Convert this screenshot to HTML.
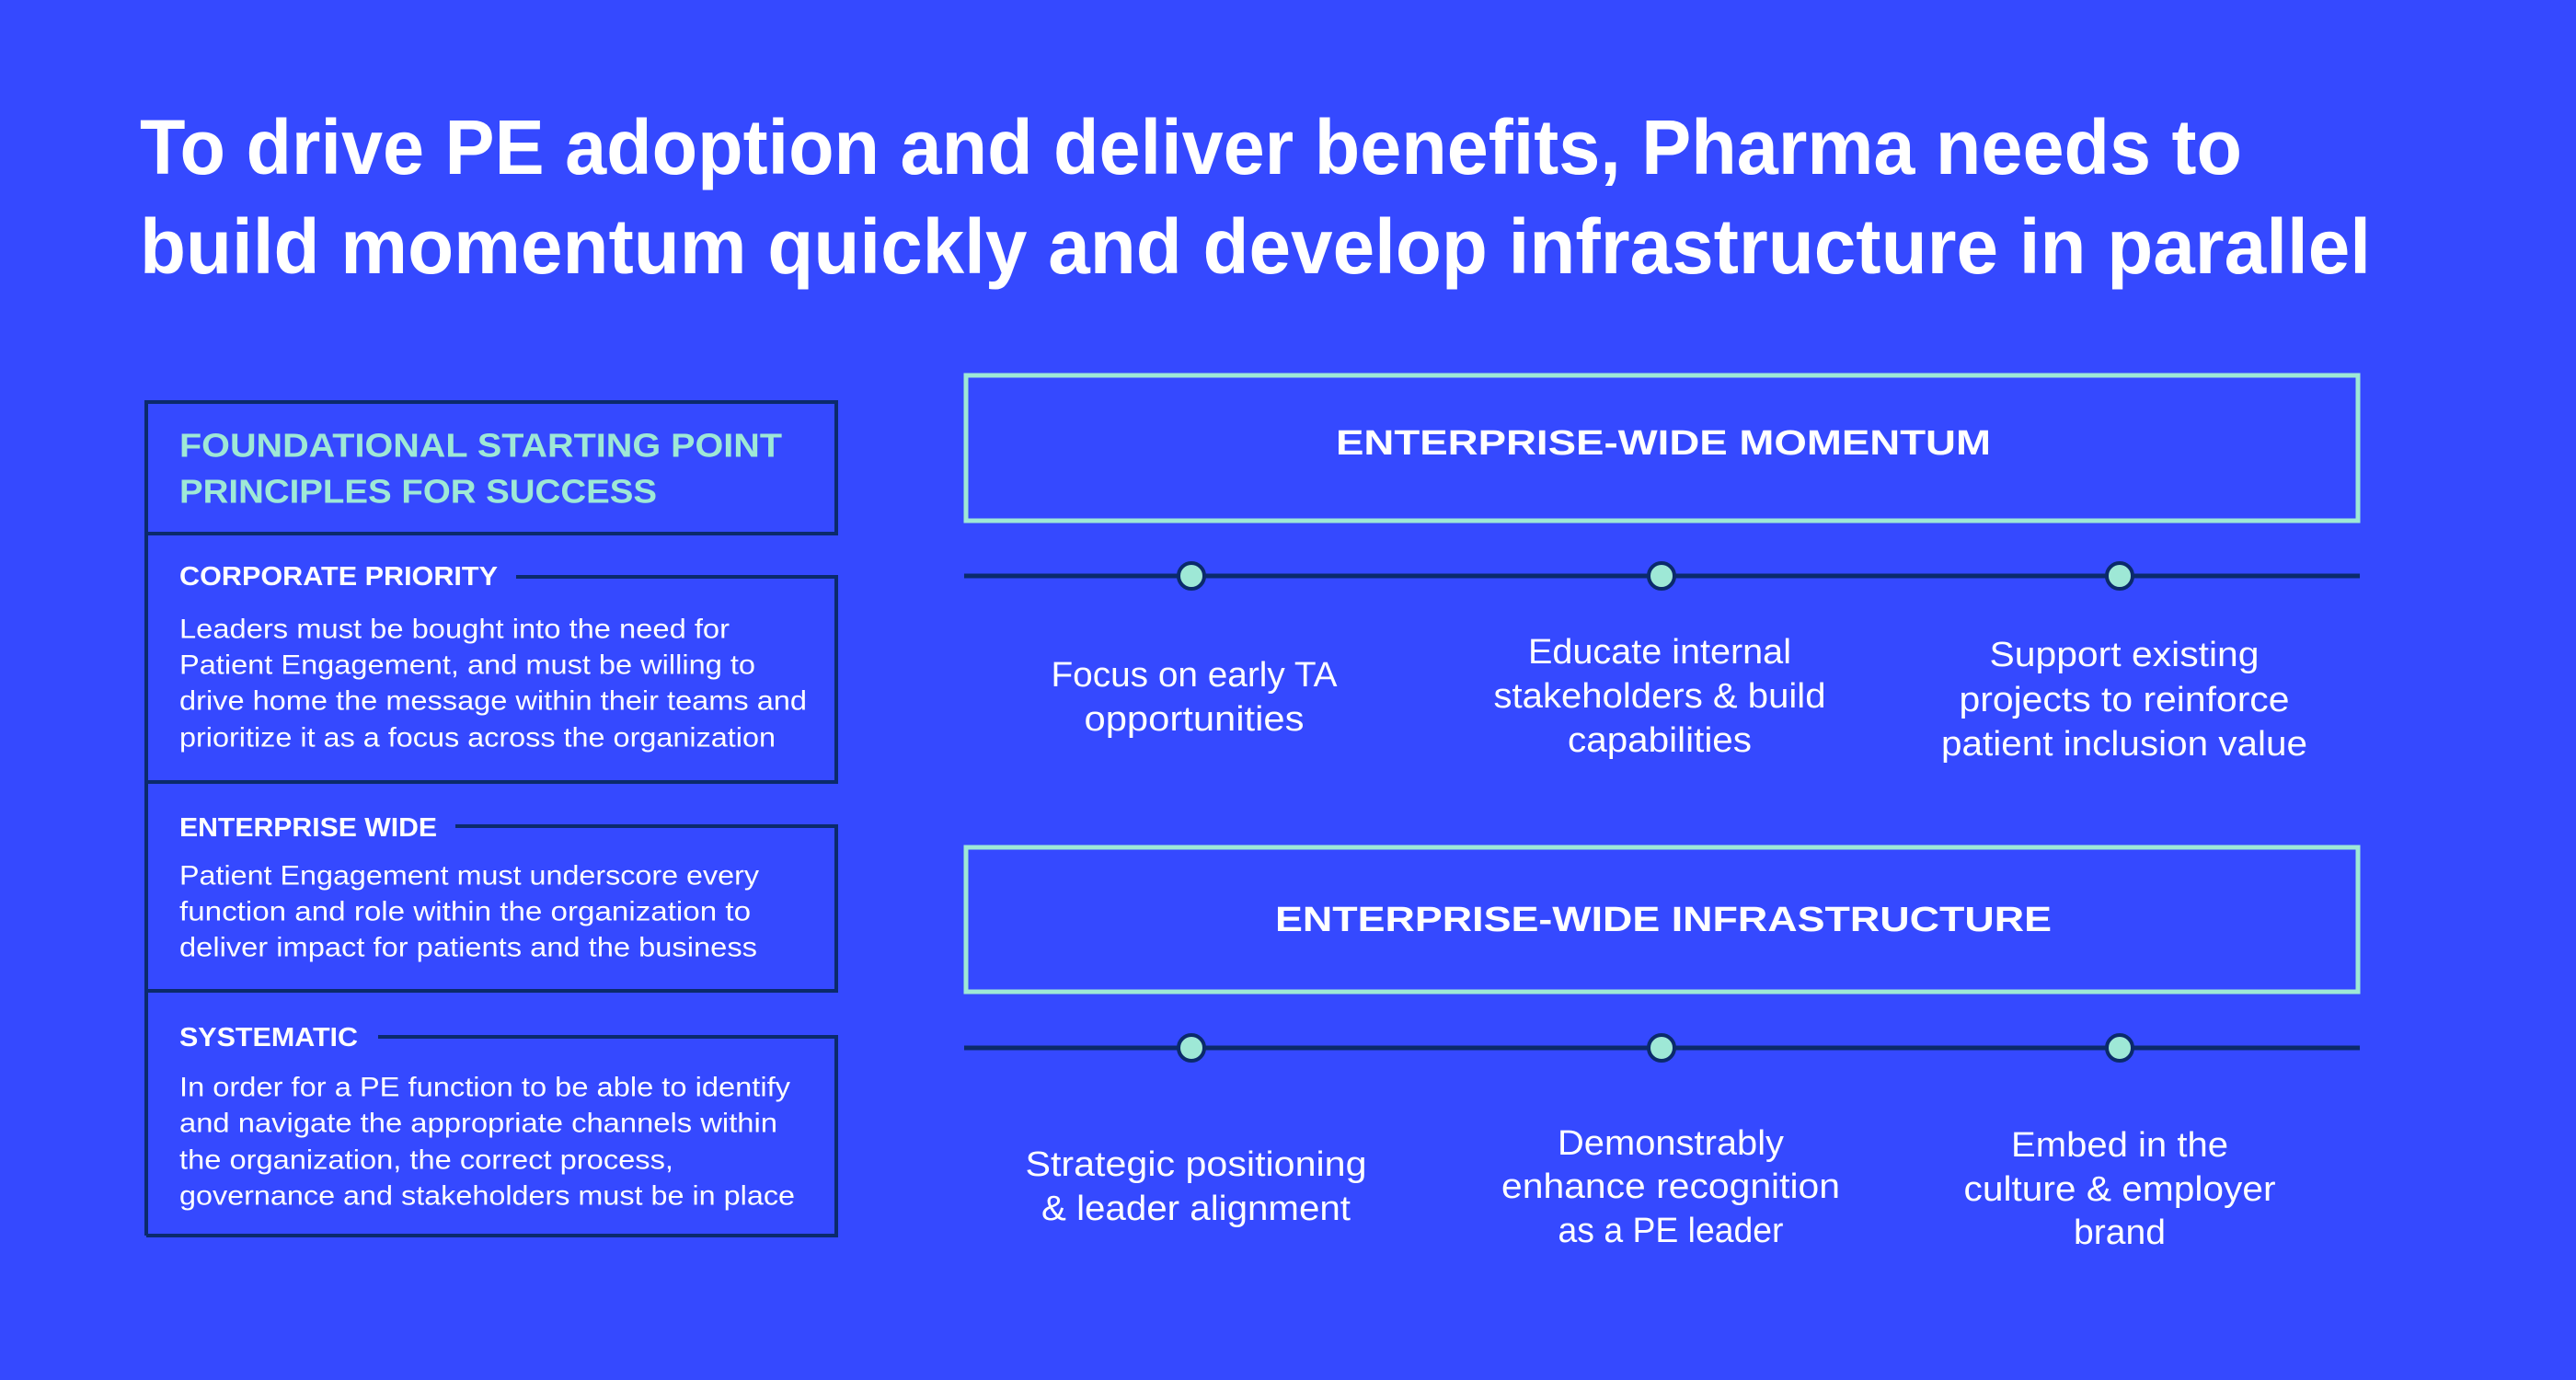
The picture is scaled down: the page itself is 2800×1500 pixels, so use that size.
<!DOCTYPE html>
<html><head><meta charset="utf-8"><style>
html,body{margin:0;padding:0;background:#3549ff;}
svg{display:block;}
text{font-family:"Liberation Sans",sans-serif;fill:#fff;}
text.mint{fill:#9ee8d6;}
</style></head><body>
<svg width="2800" height="1500" viewBox="0 0 2800 1500" xmlns="http://www.w3.org/2000/svg">
<rect width="2800" height="1500" fill="#3549ff"/>
<g font-weight="bold" font-size="84" dominant-baseline="central">
<text x="152" y="160" textLength="2285" lengthAdjust="spacingAndGlyphs">To drive PE adoption and deliver benefits, Pharma needs to</text>
<text x="152" y="268" textLength="2425" lengthAdjust="spacingAndGlyphs">build momentum quickly and develop infrastructure in parallel</text>
</g>
<g fill="none" stroke="#0b2a6b" stroke-width="4">
<line x1="159" y1="437" x2="159" y2="1343"/>
<rect x="159" y="437" width="750" height="143"/>
<polyline points="561,627 909,627 909,850 159,850"/>
<polyline points="495,898 909,898 909,1077 159,1077"/>
<polyline points="411,1127 909,1127 909,1343 159,1343"/>
</g>
<g font-weight="bold" font-size="36" dominant-baseline="central">
<text class="mint" style="fill:#9ee8d6" x="195" y="484" textLength="655" lengthAdjust="spacingAndGlyphs">FOUNDATIONAL STARTING POINT</text>
<text class="mint" style="fill:#9ee8d6" x="195" y="534" textLength="519" lengthAdjust="spacingAndGlyphs">PRINCIPLES FOR SUCCESS</text>
</g>
<g font-weight="bold" font-size="29" dominant-baseline="central">
<text x="195" y="627" textLength="346" lengthAdjust="spacingAndGlyphs">CORPORATE PRIORITY</text>
<text x="195" y="900" textLength="280" lengthAdjust="spacingAndGlyphs">ENTERPRISE WIDE</text>
<text x="195" y="1128" textLength="194" lengthAdjust="spacingAndGlyphs">SYSTEMATIC</text>
</g>
<g font-size="30" dominant-baseline="central">
<text x="195" y="684" textLength="598" lengthAdjust="spacingAndGlyphs">Leaders must be bought into the need for</text>
<text x="195" y="723" textLength="626" lengthAdjust="spacingAndGlyphs">Patient Engagement, and must be willing to</text>
<text x="195" y="762" textLength="682" lengthAdjust="spacingAndGlyphs">drive home the message within their teams and</text>
<text x="195" y="802" textLength="648" lengthAdjust="spacingAndGlyphs">prioritize it as a focus across the organization</text>
<text x="195" y="952" textLength="630" lengthAdjust="spacingAndGlyphs">Patient Engagement must underscore every</text>
<text x="195" y="991" textLength="621" lengthAdjust="spacingAndGlyphs">function and role within the organization to</text>
<text x="195" y="1030" textLength="628" lengthAdjust="spacingAndGlyphs">deliver impact for patients and the business</text>
<text x="195" y="1182" textLength="664" lengthAdjust="spacingAndGlyphs">In order for a PE function to be able to identify</text>
<text x="195" y="1221" textLength="650" lengthAdjust="spacingAndGlyphs">and navigate the appropriate channels within</text>
<text x="195" y="1261" textLength="537" lengthAdjust="spacingAndGlyphs">the organization, the correct process,</text>
<text x="195" y="1300" textLength="669" lengthAdjust="spacingAndGlyphs">governance and stakeholders must be in place</text>
</g>
<g fill="none" stroke="#9ee8d6" stroke-width="5">
<rect x="1050" y="408" width="1513" height="158"/>
<rect x="1050" y="921" width="1513" height="157"/>
</g>
<g font-weight="bold" font-size="38" dominant-baseline="central" text-anchor="middle">
<text x="1808" y="482" textLength="712" lengthAdjust="spacingAndGlyphs">ENTERPRISE-WIDE MOMENTUM</text>
<text x="1808" y="1000" textLength="844" lengthAdjust="spacingAndGlyphs">ENTERPRISE-WIDE INFRASTRUCTURE</text>
</g>
<g stroke="#0b2a6b" stroke-width="5">
<line x1="1048" y1="626" x2="2565" y2="626"/>
<line x1="1048" y1="1139" x2="2565" y2="1139"/>
</g>
<g fill="#9ee8d6" stroke="#0b2a6b" stroke-width="4">
<circle cx="1295" cy="626" r="14"/><circle cx="1806" cy="626" r="14"/><circle cx="2304" cy="626" r="14"/>
<circle cx="1295" cy="1139" r="14"/><circle cx="1806" cy="1139" r="14"/><circle cx="2304" cy="1139" r="14"/>
</g>
<g font-size="38" dominant-baseline="central" text-anchor="middle">
<text x="1298" y="734" textLength="311" lengthAdjust="spacingAndGlyphs">Focus on early TA</text>
<text x="1298" y="782" textLength="239" lengthAdjust="spacingAndGlyphs">opportunities</text>
<text x="1804" y="709" textLength="286" lengthAdjust="spacingAndGlyphs">Educate internal</text>
<text x="1804" y="757" textLength="361" lengthAdjust="spacingAndGlyphs">stakeholders &amp; build</text>
<text x="1804" y="805" textLength="200" lengthAdjust="spacingAndGlyphs">capabilities</text>
<text x="2309" y="712" textLength="293" lengthAdjust="spacingAndGlyphs">Support existing</text>
<text x="2309" y="761" textLength="359" lengthAdjust="spacingAndGlyphs">projects to reinforce</text>
<text x="2309" y="809" textLength="398" lengthAdjust="spacingAndGlyphs">patient inclusion value</text>
<text x="1300" y="1266" textLength="371" lengthAdjust="spacingAndGlyphs">Strategic positioning</text>
<text x="1300" y="1314" textLength="336" lengthAdjust="spacingAndGlyphs">&amp; leader alignment</text>
<text x="1816" y="1243" textLength="246" lengthAdjust="spacingAndGlyphs">Demonstrably</text>
<text x="1816" y="1290" textLength="368" lengthAdjust="spacingAndGlyphs">enhance recognition</text>
<text x="1816" y="1338" textLength="245" lengthAdjust="spacingAndGlyphs">as a PE leader</text>
<text x="2304" y="1245" textLength="236" lengthAdjust="spacingAndGlyphs">Embed in the</text>
<text x="2304" y="1293" textLength="339" lengthAdjust="spacingAndGlyphs">culture &amp; employer</text>
<text x="2304" y="1340" textLength="100" lengthAdjust="spacingAndGlyphs">brand</text>
</g>
</svg>
</body></html>
